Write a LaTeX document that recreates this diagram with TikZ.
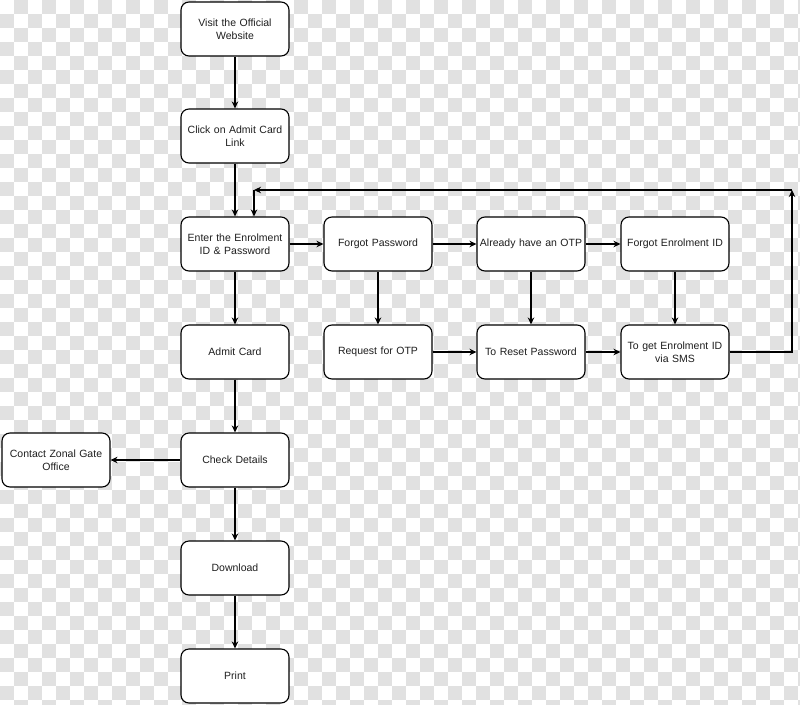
\documentclass[tikz,border=0pt]{standalone}
\usepackage{fontspec}
\setmainfont{Liberation Sans}
\usetikzlibrary{arrows.meta}
\definecolor{chk}{RGB}{225,225,225}
\definecolor{txt}{RGB}{30,30,30}
\begin{document}
\begin{tikzpicture}[x=1pt,y=-1pt,
  box/.style={draw=black,line width=1.1pt,rounded corners=8pt,fill=white,
    minimum width=108pt,minimum height=54pt,inner sep=1pt,
    text width=106pt,align=center,font=\fontsize{10.5}{13}\selectfont,text=txt},
  conn/.style={draw=black,line width=1.1pt,-{Stealth[length=7pt,width=6.5pt]}}]
\useasboundingbox (0,0) rectangle (800,704);
\fill[white] (0,0) rectangle (800,704);
\foreach \j in {0,28,...,700}{
  \foreach \i in {14,42,...,798}{
    \fill[chk] (\i,\j) rectangle ++(14,14);
  }
}
\foreach \j in {14,42,...,700}{
  \foreach \i in {0,28,...,798}{
    \fill[chk] (\i,\j) rectangle ++(14,14);
  }
}
\node[box] (visit) at (235,29) {Visit the Official\\Website};
\node[box] (click) at (235,136) {Click on Admit Card\\Link};
\node[box] (enter) at (235,244) {Enter the Enrolment\\ID \& Password};
\node[box] (admit) at (235,352) {Admit Card};
\node[box] (check) at (235,460) {Check Details};
\node[box] (down) at (235,568) {Download};
\node[box] (print) at (235,676) {Print};
\node[box] (contact) at (56,460) {Contact Zonal Gate\\Office};
\node[box] (fpw) at (378,244) {Forgot Password};
\node[box] (otp) at (531,244) {Already have an OTP};
\node[box] (fid) at (675,244) {Forgot Enrolment ID};
\node[box] (req) at (378,352) {Request for OTP};
\node[box] (reset) at (531,352) {To Reset Password};
\node[box] (sms) at (675,352) {To get Enrolment ID\\via SMS};
\coordinate (c1) at (792,190);
\coordinate (c2) at (254,190);
\draw[conn] (visit) -- (click);
\draw[conn] (click) -- (enter);
\draw[conn] (enter) -- (admit);
\draw[conn] (admit) -- (check);
\draw[conn] (check) -- (down);
\draw[conn] (down) -- (print);
\draw[conn] (check) -- (contact);
\draw[conn] (enter) -- (fpw);
\draw[conn] (fpw) -- (otp);
\draw[conn] (otp) -- (fid);
\draw[conn] (fpw) -- (req);
\draw[conn] (otp) -- (reset);
\draw[conn] (fid) -- (sms);
\draw[conn] (req) -- (reset);
\draw[conn] (reset) -- (sms);
\draw[conn] (sms.east) -| (c1);
\draw[conn] (c1) -- (c2);
\draw[conn] (c2) -- (c2 |- enter.north);
\end{tikzpicture}
\end{document}
